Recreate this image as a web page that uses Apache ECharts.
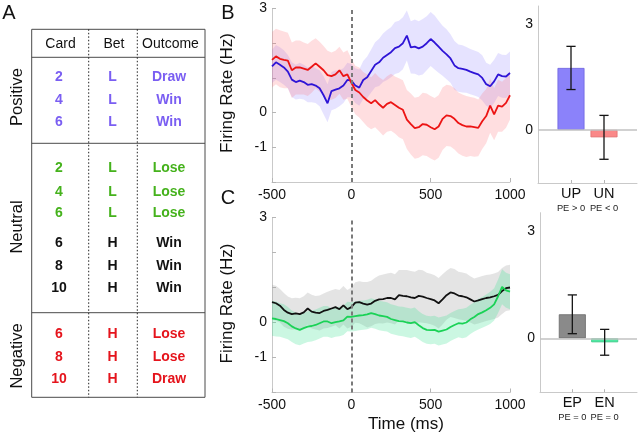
<!DOCTYPE html>
<html><head><meta charset="utf-8">
<script src="https://cdn.jsdelivr.net/npm/echarts@6/dist/echarts.min.js"></script>
<style>html,body{margin:0;padding:0;background:#fff}#c{width:640px;height:437px}</style>
</head><body><div id="c"></div><script>
// ---------- DATA ----------
const times = [-500,-475,-450,-425,-400,-375,-350,-325,-300,-275,-250,-225,-200,-175,-150,-125,-100,-75,-50,-25,0,25,50,75,100,125,150,175,200,225,250,275,300,325,350,375,400,425,450,475,500,525,550,575,600,625,650,675,700,725,750,775,800,825,850,875,900,925,950,975,1000];

// Panel B: UP (blue) and UN (red)
const upMean = [1.33,1.45,1.38,1.30,1.18,0.95,0.88,0.92,0.88,0.80,0.82,0.78,0.70,
  0.50,0.27,0.62,0.66,0.70,0.78,0.94,0.92,
  0.78,0.72,0.94,1.02,1.20,1.38,1.45,1.58,1.66,1.74,
  1.86,1.90,2.00,2.22,1.88,1.90,1.85,1.90,2.00,2.12,
  2.02,1.90,1.78,1.68,1.56,1.36,1.28,1.26,1.23,1.18,
  1.14,1.10,1.00,0.82,0.76,0.90,1.10,1.05,1.04,1.14];
const upSem = [0.48,0.50,0.50,0.50,0.48,0.50,0.50,0.52,0.50,0.50,0.52,0.50,0.52,
  0.55,0.55,0.55,0.55,0.52,0.50,0.50,0.48,
  0.50,0.52,0.55,0.60,0.62,0.65,0.68,0.70,0.72,0.72,
  0.75,0.75,0.75,0.72,0.75,0.78,0.78,0.80,0.78,0.78,
  0.78,0.75,0.72,0.72,0.70,0.70,0.68,0.68,0.66,0.65,
  0.65,0.65,0.65,0.62,0.62,0.62,0.62,0.62,0.62,0.62];
const unMean = [1.52,1.62,1.55,1.52,1.50,1.22,1.30,1.30,1.27,1.23,1.32,1.42,1.32,
  1.22,1.08,1.05,1.10,1.22,1.05,1.10,0.86,
  0.65,0.58,0.45,0.35,0.27,0.36,0.24,0.14,0.25,0.30,
  0.22,0.14,0.08,-0.20,-0.33,-0.45,-0.42,-0.33,-0.35,-0.42,
  -0.48,-0.40,-0.18,-0.08,-0.10,-0.18,-0.30,-0.36,-0.40,-0.40,
  -0.42,-0.44,-0.25,-0.10,0.20,-0.05,0.20,0.17,0.28,0.50];
const unSem = [0.80,0.80,0.82,0.82,0.80,0.80,0.78,0.78,0.75,0.75,0.75,0.72,0.72,
  0.70,0.70,0.68,0.68,0.68,0.68,0.70,0.70,
  0.70,0.72,0.72,0.75,0.75,0.78,0.78,0.80,0.80,0.82,
  0.82,0.85,0.85,0.85,0.88,0.88,0.88,0.90,0.90,0.90,
  0.90,0.90,0.90,0.88,0.88,0.88,0.88,0.88,0.88,0.85,
  0.85,0.82,0.80,0.78,0.78,0.75,0.75,0.72,0.72,0.70];

// Panel C: EP (black) and EN (green)
const epMean = [0.58,0.55,0.48,0.36,0.28,0.24,0.26,0.24,0.29,0.40,0.31,0.28,0.27,
  0.33,0.36,0.40,0.44,0.38,0.49,0.38,0.44,
  0.57,0.58,0.54,0.51,0.54,0.62,0.66,0.67,0.70,0.70,
  0.66,0.78,0.76,0.75,0.72,0.70,0.76,0.74,0.70,0.67,
  0.63,0.55,0.66,0.78,0.86,0.83,0.77,0.75,0.72,0.66,
  0.60,0.63,0.67,0.70,0.72,0.75,0.79,0.90,0.98,1.00];
const epSem = [0.50,0.50,0.48,0.48,0.46,0.45,0.45,0.45,0.46,0.46,0.48,0.48,0.50,
  0.50,0.52,0.52,0.52,0.55,0.55,0.55,0.56,
  0.58,0.60,0.62,0.65,0.65,0.66,0.68,0.70,0.70,0.72,
  0.72,0.72,0.74,0.75,0.75,0.75,0.75,0.75,0.72,0.72,
  0.72,0.72,0.72,0.70,0.70,0.70,0.68,0.68,0.68,0.66,
  0.66,0.66,0.66,0.66,0.65,0.65,0.65,0.66,0.65,0.65];
const enMean = [0.12,0.10,0.07,0.04,-0.02,-0.11,-0.17,-0.21,-0.16,-0.12,-0.10,-0.07,-0.02,
  0.03,0.03,-0.02,0.01,0.03,0.06,0.17,0.16,
  0.18,0.20,0.21,0.23,0.27,0.24,0.20,0.18,0.16,0.10,
  0.07,0.04,0.03,0.00,-0.02,0.01,-0.08,-0.16,-0.21,-0.22,
  -0.21,-0.26,-0.23,-0.20,-0.13,-0.07,-0.02,-0.03,0.00,0.09,
  0.16,0.24,0.29,0.35,0.42,0.52,0.75,1.02,0.92,0.88];
const enSem = [0.50,0.50,0.48,0.48,0.46,0.45,0.45,0.44,0.44,0.44,0.44,0.44,0.44,
  0.44,0.44,0.42,0.42,0.42,0.42,0.42,0.42,
  0.42,0.42,0.42,0.42,0.42,0.42,0.42,0.42,0.42,0.42,
  0.42,0.42,0.42,0.42,0.42,0.42,0.40,0.40,0.40,0.40,
  0.40,0.40,0.40,0.40,0.40,0.40,0.40,0.42,0.42,0.42,
  0.42,0.44,0.44,0.45,0.46,0.46,0.48,0.50,0.50,0.50];

// Bar panels
const barCatsB = ['UP','UN'];
const barSubB = ['PE > 0','PE < 0'];
const barMeanB = [1.75,-0.21];
const barErrB = [0.61,0.62];
const barCatsC = ['EP','EN'];
const barSubC = ['PE = 0','PE = 0'];
const barMeanC = [0.67,-0.11];
const barErrC = [0.54,0.36];

// Axis tick labels
const lineXTicks = [-500,0,500,1000];
const lineYLabels = [-1,0,3];
const barYLabels = [0,3];

// Table (panel A)
const tableHeader = ['Card','Bet','Outcome'];
const groups = ['Positive','Neutral','Negative'];
const cards = ['2','4','6','2','4','6','6','8','10','6','8','10'];
const bets = ['L','L','L','L','L','L','H','H','H','H','H','H'];
const outcomes = ['Draw','Win','Win','Lose','Lose','Lose','Win','Win','Win','Lose','Lose','Draw'];
const rowKind = ['pos','pos','pos','neuL','neuL','neuL','neuH','neuH','neuH','neg','neg','neg'];

// ---------- STYLE / LAYOUT ----------
const FF = '"Liberation Sans", Arial, Helvetica, sans-serif';
const kindColor = {pos:'#7a5ef2', neuL:'#45b21c', neuH:'#111111', neg:'#e5141c'};
const rowY = [77.3,100,122.3,168.3,191.7,213.3,243.3,266,287.7,334,356.7,379];
const groupY = [97,227,356];
const colX = [59,112.5,169];

const chart = echarts.init(document.getElementById('c'), null, {renderer:'canvas'});

function lineX(gi){
  return {type:'value', gridIndex:gi, min:-500, max:1000, interval:500,
    axisLine:{show:true,onZero:false,lineStyle:{color:'#c9c9c9',width:1}},
    axisTick:{show:true,inside:true,length:4,lineStyle:{color:'#b5b5b5'}},
    axisLabel:{color:'#111',fontSize:14,fontFamily:FF,margin:6,
      formatter:v=>lineXTicks.includes(v)?String(v):''},
    splitLine:{show:false}};
}
function lineY(gi){
  return {type:'value', gridIndex:gi, min:-2, max:3, interval:1,
    axisLine:{show:true,onZero:false,lineStyle:{color:'#c9c9c9',width:1}},
    axisTick:{show:true,inside:true,length:4,lineStyle:{color:'#b5b5b5'}},
    axisLabel:{color:'#111',fontSize:14,fontFamily:FF,margin:5,
      formatter:v=>lineYLabels.includes(v)?String(v):''},
    splitLine:{show:false}};
}
function barX(gi,cats,subs){
  return {type:'value', gridIndex:gi, min:0, max:3, interval:1,
    axisLine:{show:true,onZero:false,lineStyle:{color:'#c9c9c9',width:1}},
    axisTick:{show:true,inside:true,length:3,customValues:[1,2],lineStyle:{color:'#b5b5b5'}},
    axisLabel:{margin:3.5,
      formatter:v=>(v===1||v===2)?('{a|'+cats[v-1]+'}\n{b|'+subs[v-1]+'}'):'',
      rich:{a:{fontSize:14.5,lineHeight:15.5,color:'#111',fontFamily:FF,align:'center'},
            b:{fontSize:9.3,lineHeight:13,color:'#222',fontFamily:FF,align:'center'}}},
    splitLine:{show:false}};
}
function barY(gi){
  return {type:'value', gridIndex:gi, min:-1.5, max:3.5, interval:0.5,
    axisLine:{show:true,onZero:false,lineStyle:{color:'#c9c9c9',width:1}},
    axisTick:{show:false},
    axisLabel:{color:'#111',fontSize:14,fontFamily:FF,margin:5,
      formatter:v=>barYLabels.includes(v)?String(v):''},
    splitLine:{show:false}};
}

function bandSeries(ai, mean, sem, fill){
  return {type:'custom', xAxisIndex:ai, yAxisIndex:ai, silent:true, z:1,
    data: times.map((t,i)=>[t, mean[i]-sem[i], mean[i]+sem[i]]),
    encode:{x:0,y:[1,2]},
    renderItem:function(params, api){
      if (params.dataIndex !== 0) return null;
      const up=[], lo=[];
      for (let i=0;i<times.length;i++){
        up.push(api.coord([times[i], mean[i]+sem[i]]));
        lo.push(api.coord([times[i], mean[i]-sem[i]]));
      }
      return {type:'polygon', shape:{points: up.concat(lo.reverse())}, style:{fill:fill}};
    }};
}
function meanSeries(ai, mean, color, extra){
  return Object.assign({type:'line', xAxisIndex:ai, yAxisIndex:ai, silent:true, z:4,
    data: times.map((t,i)=>[t, mean[i]]), showSymbol:false, symbol:'none',
    lineStyle:{color:color,width:1.8}}, extra||{});
}
const zeroDash = {markLine:{silent:true,symbol:'none',label:{show:false},
  lineStyle:{color:'#7a7a7a',type:[4,3],width:2},data:[{xAxis:0}]}};

function barSeries(ai, means, colors, borders){
  return {type:'bar', xAxisIndex:ai, yAxisIndex:ai, silent:true, barWidth:27, z:2,
    data: means.map((m,i)=>({value:[i+1,m], itemStyle:{color:colors[i],borderColor:borders[i],borderWidth:0.8}})),
    markLine:{silent:true,symbol:'none',label:{show:false},z:3,
      lineStyle:{color:'#c2c2c2',type:'solid',width:1.6},data:[{yAxis:0}]}};
}
function errSeries(ai, means, errs){
  return {type:'custom', xAxisIndex:ai, yAxisIndex:ai, silent:true, z:6,
    data: means.map((m,i)=>[i+1, m-errs[i], m+errs[i]]),
    encode:{x:0,y:[1,2]},
    renderItem:function(params, api){
      const x=api.value(0), lo=api.value(1), hi=api.value(2);
      const a=api.coord([x,hi]), b=api.coord([x,lo]); const w=4.6;
      const st={stroke:'#151515',lineWidth:1.3};
      return {type:'group', children:[
        {type:'line',shape:{x1:a[0],y1:a[1],x2:b[0],y2:b[1]},style:st},
        {type:'line',shape:{x1:a[0]-w,y1:a[1],x2:a[0]+w,y2:a[1]},style:st},
        {type:'line',shape:{x1:b[0]-w,y1:b[1],x2:b[0]+w,y2:b[1]},style:st}]};
    }};
}

// ---------- TABLE GRAPHICS ----------
const g = [];
const tL=31.7, tR=205, tT=29.3, tB=397.3;
g.push({type:'rect', shape:{x:tL,y:tT,width:tR-tL,height:tB-tT}, style:{fill:'none',stroke:'#4a4a4a',lineWidth:1}});
[57.3,143.3,312.7].forEach(y=>g.push({type:'line',shape:{x1:tL,y1:y,x2:tR,y2:y},style:{stroke:'#4a4a4a',lineWidth:1}}));
[88.7,137.3].forEach(x=>g.push({type:'line',shape:{x1:x,y1:tT,x2:x,y2:tB},style:{stroke:'#222',lineWidth:1,lineDash:[1.5,2]}}));
tableHeader.forEach((h,i)=>g.push({type:'text',x:colX[i]+1.5,y:44,style:{text:h,fontSize:14,fontFamily:FF,fill:'#111',align:'center',verticalAlign:'middle'}}));
cards.forEach((c,i)=>{
  const col = kindColor[rowKind[i]];
  [c,bets[i],outcomes[i]].forEach((s,j)=>g.push({type:'text',x:colX[j],y:rowY[i],
    style:{text:s,fontSize:14,fontWeight:'bold',fontFamily:FF,fill:col,align:'center',verticalAlign:'middle'}}));
});
groups.forEach((s,i)=>g.push({type:'text',x:17,y:groupY[i],rotation:Math.PI/2,
  style:{text:s,fontSize:16.5,fontFamily:FF,fill:'#111',align:'center',verticalAlign:'middle'}}));
// panel letters & axis titles
[['A',9,13],['B',228,13],['C',228,198.5]].forEach(p=>g.push({type:'text',x:p[1],y:p[2],
  style:{text:p[0],fontSize:20,fontFamily:FF,fill:'#111',align:'center',verticalAlign:'middle'}}));
[93,303.5].forEach(y=>g.push({type:'text',x:227,y:y,rotation:Math.PI/2,
  style:{text:'Firing Rate (Hz)',fontSize:17,fontFamily:FF,fill:'#111',align:'center',verticalAlign:'middle'}}));
g.push({type:'text',x:406,y:424,style:{text:'Time (ms)',fontSize:17,fontFamily:FF,fill:'#111',align:'center',verticalAlign:'middle'}});

const option = {
  animation:false,
  backgroundColor:'#fff',
  grid:[
    {left:272, top:8.5, width:238, height:173.5},
    {left:538, top:6, width:100, height:177},
    {left:272, top:217.5, width:238, height:175},
    {left:540, top:212.7, width:98, height:179.5}
  ],
  xAxis:[lineX(0), barX(1,barCatsB,barSubB), lineX(2), barX(3,barCatsC,barSubC)],
  yAxis:[lineY(0), barY(1), lineY(2), barY(3)],
  graphic:g,
  series:[
    bandSeries(0, upMean, upSem, 'rgba(140,128,255,0.22)'),
    bandSeries(0, unMean, unSem, 'rgba(255,105,115,0.22)'),
    meanSeries(0, upMean, '#2e14d6', zeroDash),
    meanSeries(0, unMean, '#ec1414'),
    bandSeries(2, epMean, epSem, 'rgba(165,165,165,0.30)'),
    bandSeries(2, enMean, enSem, 'rgba(70,228,150,0.28)'),
    meanSeries(2, epMean, '#111111', zeroDash),
    meanSeries(2, enMean, '#1ad256'),
    barSeries(1, barMeanB, ['#8b82fa','#fa8888'], ['#6e64e0','#e07070']),
    errSeries(1, barMeanB, barErrB),
    barSeries(3, barMeanC, ['#8a8a8a','#4fe8a2'], ['#6a6a6a','#3cc888']),
    errSeries(3, barMeanC, barErrC)
  ]
};
chart.setOption(option);
</script></body></html>
